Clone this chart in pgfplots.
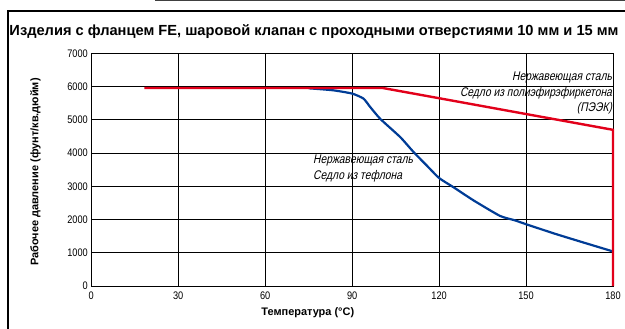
\documentclass[border=0pt]{standalone}
\usepackage{fontspec}
\setmainfont{Liberation Sans}
\newfontfamily\narrowfont[FakeStretch=0.84]{Liberation Sans}
\newfontfamily\narrowit[FakeStretch=0.82, FakeSlant=0.21]{Liberation Sans}
\usepackage{pgfplots}
\pgfplotsset{compat=1.18}
\definecolor{cred}{HTML}{E2001A}
\definecolor{cblue}{HTML}{003C96}
\begin{document}
\begin{tikzpicture}
\draw[black!75, line width=2bp] (155bp,328.5bp) -- (630bp,328.5bp);
\draw[black, line width=2.2bp] (8bp,-5bp) -- (8bp,318bp) -- (630bp,318bp);
\node[font=\bfseries\fontsize{14.7}{16}\selectfont, inner sep=0pt] at (314bp,297bp) {Изделия с фланцем FE, шаровой клапан с проходными отверстиями 10 мм и 15 мм};
\begin{axis}[
  at={(91.3bp,43bp)}, anchor=south west, scale only axis,
  width=521.7bp, height=232.6bp,
  xmin=0, xmax=180, ymin=0, ymax=7000,
  xtick={0,30,...,180}, ytick={0,1000,...,7000},
  grid=major, major grid style={black, line width=0.9bp},
  axis line style={black, line width=1bp},
  tick style={draw=none},
  scaled ticks=false,
  /pgf/number format/1000 sep={},
  /pgf/number format/assume math mode=true,
  ticklabel style={font=\narrowfont\fontsize{11}{12}\selectfont},
  xticklabel style={yshift=-2bp},
  xlabel={Температура (°C)},
  ylabel={Рабочее давление (фунт/кв.дюйм)},
  label style={font=\bfseries\fontsize{11}{12}\selectfont},
  xlabel style={at={(axis description cs:0.415,-0.116)}, anchor=center},
  ylabel style={at={(axis description cs:-0.107,0.49)}, anchor=center},
  clip=false,
]
\addplot[cblue, line width=2.2bp, line join=round, smooth, tension=0.35] coordinates {
 (75,5950) (83.4,5890) (90,5790) (93.9,5640) (96.2,5390) (99.7,5030)
 (106.6,4480) (111.2,4030) (115.8,3620) (120,3250) (125,2970) (132,2570)
 (141,2110) (146,1980) (150,1860) (159.7,1580) (169,1330) (180,1040)
};
\addplot[cred, line width=2.4bp, line join=miter] coordinates {
 (18.3,5960) (100.5,5960) (180,4700) (180,0)
};
\node[font=\narrowit\fontsize{12.6}{13}\selectfont, anchor=east, inner sep=0pt] at (axis cs:179.7,6290) {Нержавеющая сталь};
\node[font=\narrowit\fontsize{12.6}{13}\selectfont, anchor=east, inner sep=0pt] at (axis cs:179.7,5808) {Седло из полиэфирэфиркетона};
\node[font=\narrowit\fontsize{12.6}{13}\selectfont, anchor=east, inner sep=0pt] at (axis cs:179.7,5357) {(ПЭЭК)};
\node[font=\narrowit\fontsize{12.6}{13}\selectfont, anchor=west, inner sep=0pt] at (axis cs:76.5,3777) {Нержавеющая сталь};
\node[font=\narrowit\fontsize{12.6}{13}\selectfont, anchor=west, inner sep=0pt] at (axis cs:76.5,3310) {Седло из тефлона};
\end{axis}
\pgfresetboundingbox
\path[use as bounding box] (0,0) rectangle (625bp,329bp);
\end{tikzpicture}
\end{document}
